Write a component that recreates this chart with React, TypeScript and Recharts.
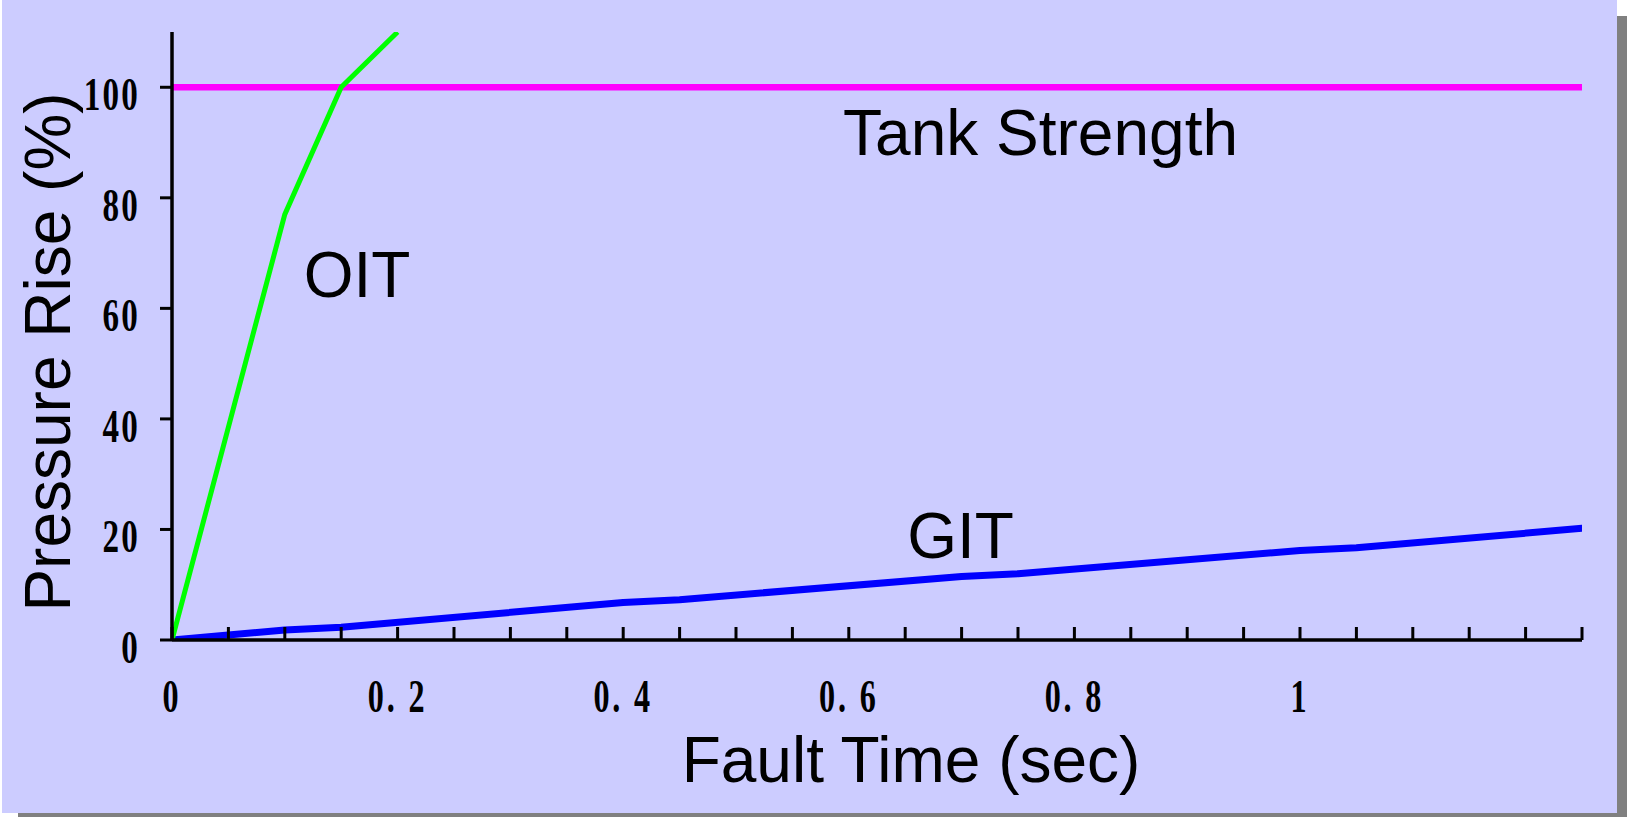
import { LineChart, Line, XAxis, YAxis, ReferenceDot } from "recharts";

// Pressure rise vs fault time, oil-insulated vs gas-insulated transformer
const oitSeries = [
  { x: 0, y: 0 },
  { x: 0.1, y: 77 },
  { x: 0.15, y: 100 },
  { x: 0.2, y: 110 },
];

const gitSeries = [
  { x: 0, y: 0 },
  { x: 0.1, y: 1.8 },
  { x: 0.15, y: 2.3 },
  { x: 0.4, y: 6.8 },
  { x: 0.45, y: 7.3 },
  { x: 0.7, y: 11.5 },
  { x: 0.75, y: 12 },
  { x: 1.0, y: 16.2 },
  { x: 1.05, y: 16.7 },
  { x: 1.25, y: 20.2 },
];

const tankSeries = [
  { x: 0, y: 100 },
  { x: 1.25, y: 100 },
];

const xTicks = [
  0, 0.05, 0.1, 0.15, 0.2, 0.25, 0.3, 0.35, 0.4, 0.45, 0.5, 0.55, 0.6,
  0.65, 0.7, 0.75, 0.8, 0.85, 0.9, 0.95, 1.0, 1.05, 1.1, 1.15, 1.2, 1.25,
];

const xTickLabels: Record<string, string> = {
  "0.00": "0",
  "0.20": "0. 2",
  "0.40": "0. 4",
  "0.60": "0. 6",
  "0.80": "0. 8",
  "1.00": "1",
};

const yTicks = [0, 20, 40, 60, 80, 100];

const notes = [
  { text: "Tank Strength", x: 0.77, y: 87.8 },
  { text: "OIT", x: 0.164, y: 62 },
  { text: "GIT", x: 0.699, y: 14.9 },
];

const SANS = '"Liberation Sans", Arial, sans-serif';
const SERIF = '"Liberation Serif", "Times New Roman", serif';

function XTick(props: any) {
  const { x, y, payload } = props;
  const label = xTickLabels[Number(payload.value).toFixed(2)];
  if (!label) return null;
  return (
    <g transform={`translate(${x},${y + 85}) scale(0.7,1)`}>
      <text x={0} y={0} textAnchor="middle" fontFamily={SERIF} fontWeight="bold" fontSize={46} letterSpacing={4} fill="#000">
        {label}
      </text>
    </g>
  );
}

function YTick(props: any) {
  const { x, y, payload } = props;
  return (
    <g transform={`translate(${x},${y + 23}) scale(0.72,1)`}>
      <text x={0} y={0} textAnchor="end" fontFamily={SERIF} fontWeight="bold" fontSize={46} letterSpacing={3} fill="#000">
        {payload.value}
      </text>
    </g>
  );
}

const noteContent = (text: string) => (props: any) => {
  const vb = props.viewBox || {};
  const cx = (vb.x || 0) + (vb.width || 0) / 2;
  const cy = (vb.y || 0) + (vb.height || 0) / 2;
  return (
    <text x={cx} y={cy} textAnchor="middle" fontFamily={SANS} fontSize={64} fill="#000">
      {text}
    </text>
  );
};

export default function App() {
  return (
    <div style={{ position: "absolute", left: 0, top: 0, width: 1627, height: 817, overflow: "hidden", background: "#fff" }}>
      <div
        style={{
          position: "absolute",
          left: 2,
          top: 0,
          width: 1615,
          height: 813,
          background: "#ccccff",
          boxShadow: "16px 16px 0 #808080",
        }}
      />
      <div style={{ position: "absolute", left: 0, top: 0 }}>
        <LineChart width={1627} height={817} margin={{ top: 32, right: 45, left: 0, bottom: 77 }}>
          <XAxis
            type="number"
            dataKey="x"
            domain={[0, 1.25]}
            ticks={xTicks}
            allowDataOverflow
            interval={0}
            height={100}
            tickSize={-13}
            tickMargin={0}
            axisLine={{ stroke: "#000", strokeWidth: 3.5 }}
            tickLine={{ stroke: "#000", strokeWidth: 3 }}
            tick={<XTick />}
            label={{
              content: () => (
                <text x={911} y={782} textAnchor="middle" fontFamily={SANS} fontSize={64} fill="#000">
                  Fault Time (sec)
                </text>
              ),
            }}
          />
          <YAxis
            type="number"
            domain={[0, 110]}
            ticks={yTicks}
            allowDataOverflow
            interval={0}
            width={172}
            tickSize={12}
            tickMargin={20}
            axisLine={{ stroke: "#000", strokeWidth: 3.5 }}
            tickLine={{ stroke: "#000", strokeWidth: 3 }}
            tick={<YTick />}
            label={{
              content: () => (
                <text
                  x={70}
                  y={352}
                  transform="rotate(-90 70 352)"
                  textAnchor="middle"
                  fontFamily={SANS}
                  fontSize={64}
                  fill="#000"
                >
                  Pressure Rise (%)
                </text>
              ),
            }}
          />
          <Line
            data={tankSeries}
            dataKey="y"
            type="linear"
            stroke="#ff00ff"
            strokeWidth={6.5}
            dot={false}
            activeDot={false}
            isAnimationActive={false}
          />
          <Line
            data={gitSeries}
            dataKey="y"
            type="linear"
            stroke="#0000ff"
            strokeWidth={7}
            strokeLinecap="round"
            strokeLinejoin="round"
            dot={false}
            activeDot={false}
            isAnimationActive={false}
          />
          <Line
            data={oitSeries}
            dataKey="y"
            type="linear"
            stroke="#00ff00"
            strokeWidth={5}
            dot={false}
            activeDot={false}
            isAnimationActive={false}
          />
          {notes.map((n) => (
            <ReferenceDot
              key={n.text}
              x={n.x}
              y={n.y}
              r={1}
              fill="none"
              stroke="none"
              label={{ content: noteContent(n.text) }}
            />
          ))}
        </LineChart>
      </div>
    </div>
  );
}
